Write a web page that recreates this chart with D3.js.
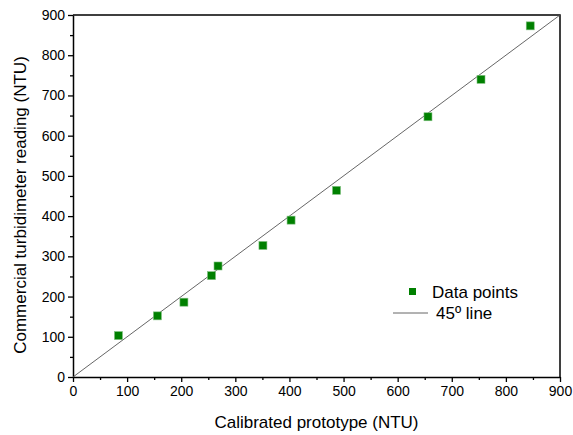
<!DOCTYPE html>
<html>
<head>
<meta charset="utf-8">
<script src="https://cdn.jsdelivr.net/npm/d3@7"></script>
<style>
  body { margin: 0; background: #fff; }
  svg text { font-family: "Liberation Sans", Arial, sans-serif; fill: #000; }
  .axis path, .axis line { stroke: #000; }
</style>
</head>
<body>
<div id="chart"></div>
<script>
// readings (NTU)
var prototypeVals = [84, 156, 205, 256, 268, 351, 403, 487, 656, 754, 845];
var commercialVals = [103, 152, 186, 252, 276, 327, 390, 464, 647, 740, 873];

var majorTicks = [0, 100, 200, 300, 400, 500, 600, 700, 800, 900];
var minorTicks = [50, 150, 250, 350, 450, 550, 650, 750, 850];
var lineEnds = [0, 900];

var width = 573, height = 435;
var margin = {top: 15, right: 13, bottom: 58, left: 73};

var svg = d3.select("#chart").append("svg")
    .attr("width", width)
    .attr("height", height);

var x = d3.scaleLinear().domain([0, 900]).range([margin.left, width - margin.right]);
var y = d3.scaleLinear().domain([0, 900]).range([height - margin.bottom, margin.top]);

// frame top + right
svg.append("path")
    .attr("d", "M" + x(0) + "," + y(900) + "H" + x(900) + "V" + y(0))
    .attr("fill", "none")
    .attr("stroke", "#000")
    .attr("stroke-width", 1.5);

// minor ticks
svg.append("g")
    .attr("class", "axis")
    .attr("transform", "translate(0," + y(0) + ")")
    .call(d3.axisBottom(x).tickValues(minorTicks).tickSize(3).tickFormat(""))
    .call(g => g.select(".domain").remove())
    .selectAll("line").attr("stroke-width", 1.3);
svg.append("g")
    .attr("class", "axis")
    .attr("transform", "translate(" + x(0) + ",0)")
    .call(d3.axisLeft(y).tickValues(minorTicks).tickSize(3).tickFormat(""))
    .call(g => g.select(".domain").remove())
    .selectAll("line").attr("stroke-width", 1.3);

// major axes
var xAxis = svg.append("g")
    .attr("class", "axis")
    .attr("transform", "translate(0," + y(0) + ")")
    .call(d3.axisBottom(x).tickValues(majorTicks).tickSize(5).tickSizeOuter(0).tickPadding(4));
xAxis.select(".domain").attr("stroke-width", 1.5);
xAxis.selectAll("line").attr("stroke-width", 1.3);
xAxis.selectAll("text").style("font-size", "14px");

var yAxis = svg.append("g")
    .attr("class", "axis")
    .attr("transform", "translate(" + x(0) + ",0)")
    .call(d3.axisLeft(y).tickValues(majorTicks).tickSize(5).tickSizeOuter(0).tickPadding(3));
yAxis.select(".domain").attr("stroke-width", 1.5);
yAxis.selectAll("line").attr("stroke-width", 1.3);
yAxis.selectAll("text").style("font-size", "14px");

// 45 deg line
svg.append("line")
    .attr("x1", x(lineEnds[0])).attr("y1", y(lineEnds[0]))
    .attr("x2", x(lineEnds[1])).attr("y2", y(lineEnds[1]))
    .attr("stroke", "#555")
    .attr("stroke-width", 0.9);

// data points
var sz = 8;
svg.append("g")
    .selectAll("rect")
    .data(prototypeVals)
    .join("rect")
    .attr("x", (d, i) => x(d) - sz / 2)
    .attr("y", (d, i) => y(commercialVals[i]) - sz / 2)
    .attr("width", sz)
    .attr("height", sz)
    .attr("fill", "#008000")
    .attr("stroke", "#7fc07f")
    .attr("stroke-width", 0.6);

// axis titles
svg.append("text")
    .attr("x", (x(0) + x(900)) / 2)
    .attr("y", 428)
    .attr("text-anchor", "middle")
    .style("font-size", "17px")
    .text("Calibrated prototype (NTU)");

svg.append("text")
    .attr("transform", "translate(26,205) rotate(-90)")
    .attr("text-anchor", "middle")
    .style("font-size", "17px")
    .text("Commercial turbidimeter reading (NTU)");

// legend
var leg = svg.append("g");
leg.append("rect")
    .attr("x", 409).attr("y", 288)
    .attr("width", 7).attr("height", 7)
    .attr("fill", "#008000");
leg.append("text")
    .attr("x", 432).attr("y", 298)
    .style("font-size", "17px")
    .text("Data points");
leg.append("line")
    .attr("x1", 393).attr("x2", 428)
    .attr("y1", 313).attr("y2", 313)
    .attr("stroke", "#555")
    .attr("stroke-width", 0.9);
leg.append("text")
    .attr("x", 436).attr("y", 319)
    .style("font-size", "17px")
    .text("45º line");
</script>
</body>
</html>
